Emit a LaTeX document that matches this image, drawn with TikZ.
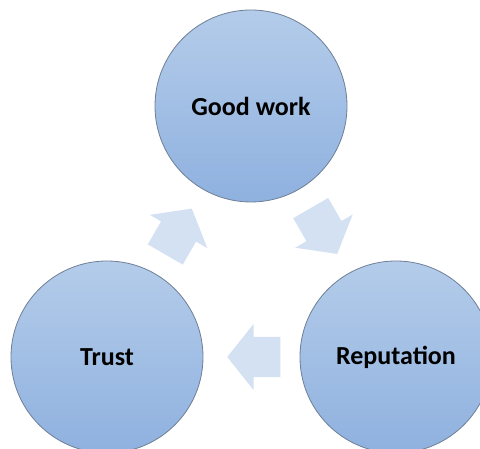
\documentclass[tikz,border=0pt]{standalone}
\usepackage{fontspec}
\setmainfont{Carlito}
\usetikzlibrary{shapes.arrows}
\definecolor{circtop}{HTML}{B4CCEA}
\definecolor{circbot}{HTML}{8FB1DF}
\definecolor{circline}{HTML}{6E7F96}
\definecolor{arrowfill}{HTML}{D4E1F2}
\tikzset{
  stage/.style={circle, draw=circline, line width=0.8pt, top color=circtop, bottom color=circbot,
    minimum size=192pt, inner sep=0pt, font=\fontsize{26}{30}\selectfont\bfseries},
  flow/.style={single arrow, fill=arrowfill, draw=none, minimum height=53pt,
    single arrow head extend=13pt, single arrow tip angle=103, inner sep=0pt, anchor=tip},
}
\newcommand{\shaft}{\rule{0pt}{40pt}}
\begin{document}
\begin{tikzpicture}[x=1pt,y=1pt]
  \useasboundingbox (0,0) rectangle (480,449);
  % Nodes
  \node (work) [stage] at (251,343) {Good work};
  \node (trust) [stage] at (107,92) {Trust};
  \node (rep) [stage] at (396,92) {Reputation};
  % Arrows
  \node (work-rep) [flow, rotate=-60] at (337.3,194.8) {\shaft};
  \node (rep-trust) [flow, rotate=180] at (227,92) {\shaft};
  \node (trust-work) [flow, rotate=60] at (191.9,240.6) {\shaft};
\end{tikzpicture}
\end{document}
